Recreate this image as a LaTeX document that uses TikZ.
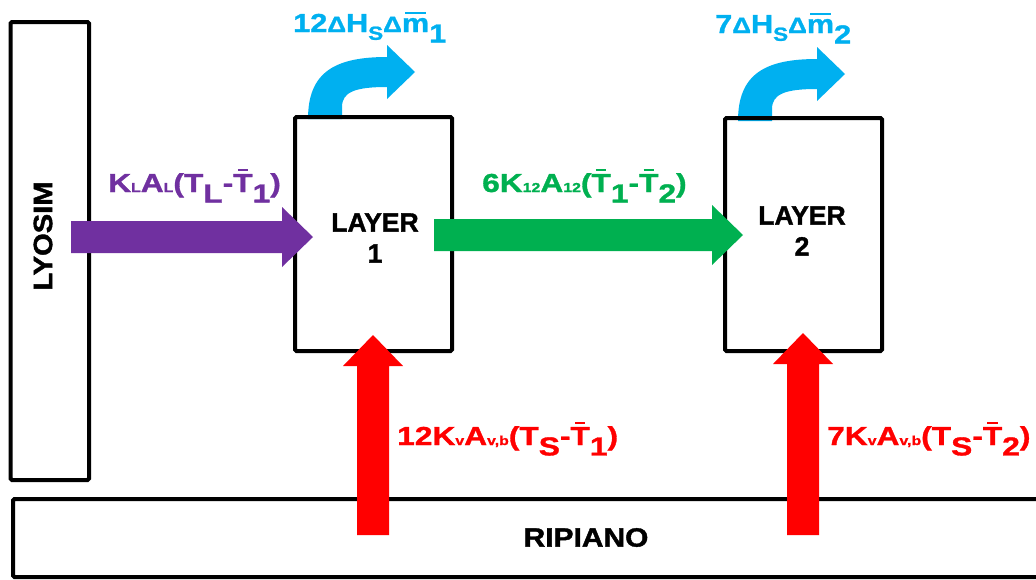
\documentclass[tikz,border=0pt]{standalone}
\usepackage{fontspec}
\setmainfont{Liberation Sans}
\newfontfamily\lblfont{Liberation Sans Bold}[FakeStretch=1.22, FakeBold=1.2]
\newfontfamily\topfont{Liberation Sans Bold}[FakeStretch=1.18, FakeBold=1.2]
\newfontfamily\blkfont{Liberation Sans Bold}[FakeBold=1.4]
\usetikzlibrary{calc}
\definecolor{cpurple}{HTML}{7030A0}
\definecolor{cgreen}{HTML}{00B050}
\definecolor{cred}{HTML}{FF0000}
\definecolor{ccyan}{HTML}{00B0F0}
\newcommand\ssub[1]{{\fontsize{13}{13}\selectfont #1}}
\newcommand\lsub[1]{\raisebox{-0.4em}{#1}}
\newcommand\Tb{\ooalign{T\cr\hidewidth\rule[0.80em]{0.4em}{0.08em}\hidewidth\cr}}
\newcommand\mb{\ooalign{m\cr\hidewidth\rule[0.68em]{0.8em}{0.08em}\hidewidth\cr}}
\newcommand\Dl{\scalebox{0.85}{Δ}}
\tikzset{
  box/.style={draw=black, line width=4pt, rounded corners=1.5pt, inner sep=0pt},
  lab/.style={font=\lblfont\fontsize{26}{31}\selectfont, inner sep=0pt},
  toplab/.style={font=\topfont\fontsize{26}{31}\selectfont, inner sep=0pt, text=ccyan},
  blk/.style={font=\blkfont\fontsize{26.5}{31}\selectfont, inner sep=0pt},
  fatright/.style={to path={let \p1=(\tikztostart),\p2=(\tikztotarget) in
    (\x1,\y2+16pt) -- (\x2-31pt,\y2+16pt) -- (\x2-31pt,\y2+30pt) -- (\x2,\y2)
    -- (\x2-31pt,\y2-30pt) -- (\x2-31pt,\y2-16pt) -- (\x1,\y2-16pt) -- cycle}},
  fatup/.style={to path={let \p1=(\tikztostart),\p2=(\tikztotarget) in
    (\x2-16pt,\y1) -- (\x2-16pt,\y2-31pt) -- (\x2-30pt,\y2-31pt) -- (\x2,\y2)
    -- (\x2+30pt,\y2-31pt) -- (\x2+16pt,\y2-31pt) -- (\x2+16pt,\y1) -- cycle}},
  heatarrow/.pic={\fill[ccyan] (0,0) .. controls (0,-47) and (27,-62) .. (79,-62)
    -- (79,-74) -- (107,-47) -- (79,-20) -- (79,-32)
    .. controls (47,-32) and (34,-27) .. (34,-12) -- (34,0) -- cycle;}
}
\begin{document}
\begin{tikzpicture}[x=1pt,y=-1pt]
\useasboundingbox[fill=white] (0,0) rectangle (1036,579);
% heat removal arrows (behind boxes)
\pic (h1) at (308,119) {heatarrow};
\pic (h2) at (738,121) {heatarrow};
% boxes
\node[box, minimum width=78.5pt, minimum height=458pt] (lyo) at (49.75,251) {};
\node[box, minimum width=1037pt, minimum height=78pt] (rip) at (531.5,538) {};
\node[box, minimum width=157pt, minimum height=234pt] (L1) at (373.5,234) {};
\node[box, minimum width=157pt, minimum height=233pt] (L2) at (803.5,234.5) {};
% arrow end points
\coordinate (pS) at (71,237);  \coordinate (pT) at (313,237);
\coordinate (gS) at (434,235); \coordinate (gT) at (743,235);
\coordinate (r1S) at (373,535); \coordinate (r1T) at (373,335);
\coordinate (r2S) at (803,535); \coordinate (r2T) at (803,333);
\fill[cpurple] (pS) to[fatright] (pT);
\fill[cgreen] (gS) to[fatright] (gT);
\fill[cred] (r1S) to[fatup] (r1T);
\fill[cred] (r2S) to[fatup] (r2T);
% texts
\node[blk, rotate=90] (lyot) at (43,236) {\scalebox{1.1}[1]{LYOSIM}};
\node[blk] (ript) at (586,537.5) {\scalebox{1.13}[1]{RIPIANO}};
\node[blk, align=center] (L1t) at (375,238) {LAYER\\1};
\node[blk, align=center] (L2t) at (802,231) {LAYER\\2};
\node[toplab, anchor=base west] (q1) at (293,32)
  {12\Dl H\raisebox{-0.3em}{\fontsize{19}{19}\selectfont S}\Dl\mb\lsub{1}};
\node[toplab, anchor=base west] (q2) at (715,33)
  {7\Dl H\raisebox{-0.3em}{\fontsize{19}{19}\selectfont S}\Dl\mb\lsub{2}};
\node[lab, text=cpurple, anchor=base west] (pl) at (108,192)
  {K\ssub{L}A\ssub{L}(T\lsub{L}-\Tb\lsub{1})};
\node[lab, text=cgreen, anchor=base west] (gl) at (482,192)
  {6K\ssub{12}A\ssub{12}(\Tb\lsub{1}-\Tb\lsub{2})};
\node[lab, text=cred, anchor=base west] (rl1) at (397,445)
  {12K\ssub{v}A\ssub{v,b}(T\lsub{S}-\Tb\lsub{1})};
\node[lab, text=cred, anchor=base west] (rl2) at (827,445)
  {7K\ssub{v}A\ssub{v,b}(T\lsub{S}-\Tb\lsub{2})};
\end{tikzpicture}
\end{document}
